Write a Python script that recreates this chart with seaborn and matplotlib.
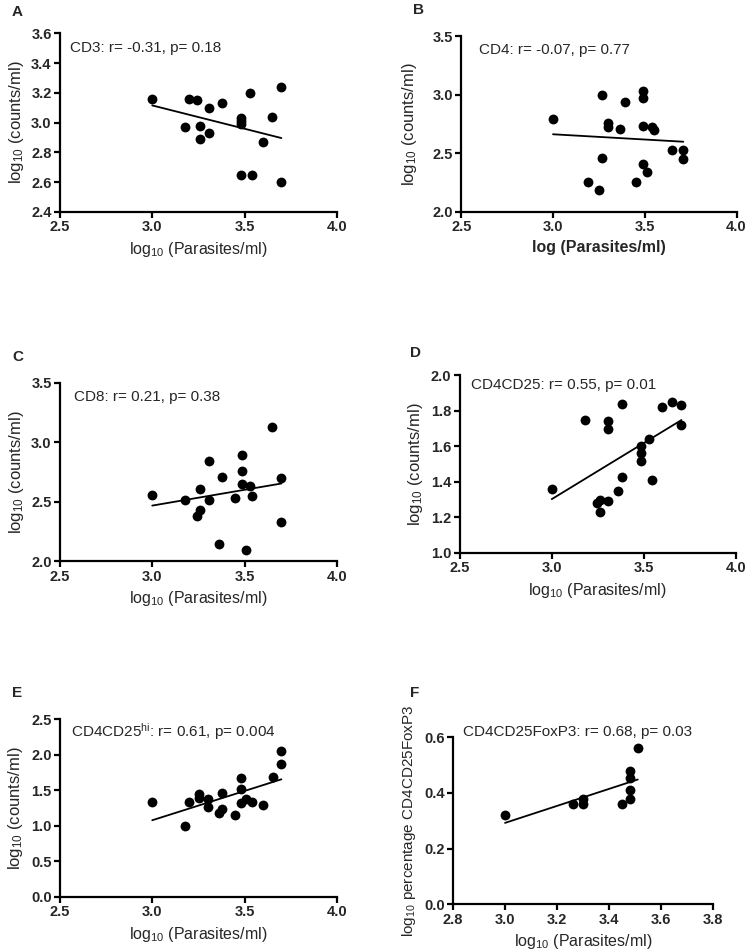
import numpy as np
import pandas as pd
import matplotlib
matplotlib.use("Agg")
import matplotlib.pyplot as plt
import seaborn as sns

# Panel A - CD3
cd3_x = [3.00, 3.18, 3.20, 3.24, 3.26, 3.26, 3.31, 3.31, 3.38, 3.48,
         3.48, 3.48, 3.53, 3.48, 3.54, 3.60, 3.65, 3.70, 3.70]
cd3_y = [3.16, 2.97, 3.16, 3.15, 2.98, 2.89, 3.10, 2.93, 3.13, 3.03,
         3.01, 2.99, 3.20, 2.65, 2.65, 2.87, 3.04, 3.24, 2.60]

# Panel B - CD4
cd4_x = [3.00, 3.19, 3.25, 3.265, 3.265, 3.30, 3.30, 3.365, 3.39, 3.45,
         3.49, 3.49, 3.49, 3.49, 3.51, 3.54, 3.55, 3.65, 3.71, 3.71]
cd4_y = [2.79, 2.255, 2.19, 3.00, 2.46, 2.76, 2.72, 2.71, 2.94, 2.255,
         3.03, 2.97, 2.73, 2.41, 2.34, 2.72, 2.70, 2.53, 2.53, 2.45]

# Panel C - CD8
cd8_x = [3.00, 3.18, 3.24, 3.26, 3.26, 3.31, 3.31, 3.36, 3.38, 3.45,
         3.485, 3.485, 3.485, 3.51, 3.53, 3.54, 3.65, 3.70, 3.70]
cd8_y = [2.56, 2.52, 2.38, 2.61, 2.43, 2.84, 2.52, 2.15, 2.71, 2.53,
         2.89, 2.76, 2.65, 2.10, 2.63, 2.55, 3.13, 2.70, 2.33]

# Panel D - CD4CD25
cd25_x = [3.00, 3.18, 3.244, 3.262, 3.262, 3.304, 3.304, 3.304, 3.362, 3.384,
          3.384, 3.484, 3.484, 3.484, 3.53, 3.544, 3.60, 3.655, 3.705, 3.705]
cd25_y = [1.36, 1.75, 1.28, 1.30, 1.23, 1.74, 1.70, 1.29, 1.35, 1.84,
          1.43, 1.60, 1.56, 1.52, 1.64, 1.41, 1.82, 1.85, 1.83, 1.72]

# Panel E - CD4CD25hi
hi_x = [3.00, 3.176, 3.198, 3.256, 3.256, 3.30, 3.30, 3.36, 3.377, 3.38,
        3.448, 3.48, 3.48, 3.48, 3.51, 3.54, 3.598, 3.652, 3.70, 3.70]
hi_y = [1.34, 1.00, 1.34, 1.45, 1.39, 1.37, 1.26, 1.18, 1.23, 1.46,
        1.15, 1.67, 1.51, 1.32, 1.38, 1.34, 1.29, 1.69, 2.05, 1.87]

# Panel F - CD4CD25FoxP3
fox_x = [3.00, 3.26, 3.30, 3.30, 3.45, 3.48, 3.48, 3.48, 3.48, 3.51]
fox_y = [0.32, 0.36, 0.38, 0.36, 0.36, 0.48, 0.455, 0.41, 0.38, 0.562]

sns.set_style("ticks")
plt.rcParams['font.family'] = ['Liberation Sans', 'DejaVu Sans']
plt.rcParams['mathtext.default'] = 'regular'
plt.rcParams['axes.linewidth'] = 1.6

fig = plt.figure(figsize=(7.5, 9.5), dpi=100)

xlab = r'log$_{10}$ (Parasites/ml)'
ylab = r'log$_{10}$ (counts/ml)'

panels = [
    # letter, x, y, rect, xlim, xticks, ylim, yticks, note, note position, xlabel, ylabel
    ("A", cd3_x, cd3_y, [0.080, 0.777, 0.369, 0.188], (2.5, 4.0), np.arange(2.5, 4.01, 0.5),
     (2.4, 3.6), np.arange(2.4, 3.61, 0.2), "CD3: r= -0.31, p= 0.18", (0.035, 0.92), xlab, ylab),
    ("B", cd4_x, cd4_y, [0.615, 0.777, 0.367, 0.185], (2.5, 4.0), np.arange(2.5, 4.01, 0.5),
     (2.0, 3.5), np.arange(2.0, 3.51, 0.5), "CD4: r= -0.07, p= 0.77", (0.065, 0.92),
     "log (Parasites/ml)", ylab),
    ("C", cd8_x, cd8_y, [0.080, 0.409, 0.369, 0.188], (2.5, 4.0), np.arange(2.5, 4.01, 0.5),
     (2.0, 3.5), np.arange(2.0, 3.51, 0.5), "CD8: r= 0.21, p= 0.38", (0.05, 0.92), xlab, ylab),
    ("D", cd25_x, cd25_y, [0.613, 0.418, 0.368, 0.187], (2.5, 4.0), np.arange(2.5, 4.01, 0.5),
     (1.0, 2.0), np.arange(1.0, 2.01, 0.2), "CD4CD25: r= 0.55, p= 0.01", (0.04, 0.945), xlab, ylab),
    ("E", hi_x, hi_y, [0.080, 0.056, 0.369, 0.187], (2.5, 4.0), np.arange(2.5, 4.01, 0.5),
     (0.0, 2.5), np.arange(0.0, 2.51, 0.5), r"CD4CD25$^{hi}$: r= 0.61, p= 0.004", (0.04, 0.93), xlab, ylab),
    ("F", fox_x, fox_y, [0.604, 0.048, 0.347, 0.176], (2.8, 3.8), np.arange(2.8, 3.81, 0.2),
     (0.0, 0.6), np.arange(0.0, 0.61, 0.2), "CD4CD25FoxP3: r= 0.68, p= 0.03", (0.04, 1.03), xlab,
     r'log$_{10}$ percentage CD4CD25FoxP3'),
]

for (letter, xs, ys, rect, xlim, xticks, ylim, yticks, note, npos, xl, yl) in panels:
    ax = fig.add_axes(rect)
    df = pd.DataFrame({'x': xs, 'y': ys})
    sns.regplot(data=df, x='x', y='y', ax=ax, ci=None, color='black',
                scatter_kws={'s': 50, 'alpha': 1, 'linewidths': 0},
                line_kws={'linewidth': 1.3})
    ax.set_xlim(*xlim)
    ax.set_ylim(*ylim)
    ax.set_xticks(xticks)
    ax.set_yticks(yticks)
    ax.set_xticklabels([f"{t:.1f}" for t in xticks], fontweight='bold', fontsize=10.5)
    ax.set_yticklabels([f"{t:.1f}" for t in yticks], fontweight='bold', fontsize=10.5)
    ax.tick_params(direction='out', length=4, width=1.6, color='black', pad=2)
    for s in ['top', 'right']:
        ax.spines[s].set_visible(False)
    for s in ['left', 'bottom']:
        ax.spines[s].set_color('black')
    if letter == "B":
        ax.set_xlabel(xl, fontsize=11.5, fontweight='bold', labelpad=4)
    else:
        ax.set_xlabel(xl, fontsize=11.5, labelpad=4)
    if letter == "F":
        ax.set_ylabel(yl, fontsize=11, labelpad=4)
    else:
        ax.set_ylabel(yl, fontsize=12, labelpad=4 if letter != "B" else 10)
    ax.text(npos[0], npos[1], note, transform=ax.transAxes, fontsize=11,
            va='center', ha='left', clip_on=False)

# panel letters
letters = [("A", 12, 12), ("B", 413, 10), ("C", 12, 357), ("D", 410, 353),
           ("E", 12, 693), ("F", 410, 693)]
for l, px, py in letters:
    fig.text(px / 750, 1 - py / 950, l, fontsize=11, fontweight='bold', va='center', ha='left')

fig.savefig("out.png", dpi=100)
